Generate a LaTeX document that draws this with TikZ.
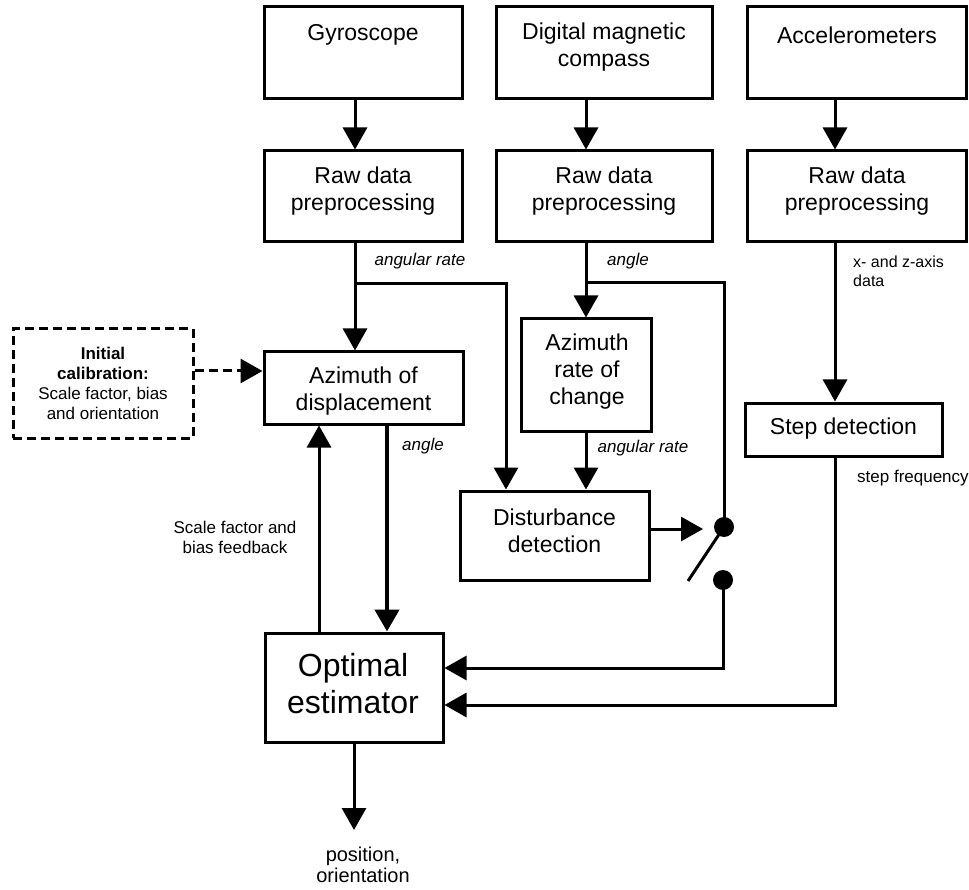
\documentclass[tikz,border=0pt]{standalone}
\usepackage{fontspec}
\setmainfont{Liberation Sans}
\usetikzlibrary{arrows.meta,calc}
\begin{document}
\begin{tikzpicture}[x=1pt,y=-1pt,
  box/.style={draw, line width=3pt, inner sep=0pt},
  dbox/.style={draw, line width=3pt, dash pattern=on 9pt off 5pt, inner sep=0pt},
  bigtxt/.style={font=\fontsize{23}{27}\selectfont, align=center, inner sep=0pt},
  hugetxt/.style={font=\fontsize{32}{37}\selectfont, align=center, inner sep=0pt},
  smalltxt/.style={font=\fontsize{17}{20}\selectfont, align=center, inner sep=0pt},
  conn/.style={line width=3pt},
  arr/.style={line width=3pt, -{Triangle[length=22pt,width=24pt]}},
  arrthick/.style={line width=4.5pt, -{Triangle[length=22pt,width=24pt]}},
  darr/.style={line width=3pt, dash pattern=on 9pt off 5pt, -{Triangle[length=22pt,width=24pt]}}
]
\useasboundingbox (0,0) rectangle (969,890);

% boxes
\node[box, minimum width=198pt, minimum height=92pt] (gyro) at (363,53) {};
\node[box, minimum width=216pt, minimum height=92pt] (compass) at (604,53) {};
\node[box, minimum width=219pt, minimum height=92pt] (accel) at (856.5,53) {};
\node[bigtxt] (gyrotxt) at (363,35) {Gyroscope};
\node[bigtxt] (comptxt) at (604,47) {Digital magnetic\\compass};
\node[bigtxt] (acctxt) at (857,35) {Accelerometers};

\node[box, minimum width=198pt, minimum height=91pt] (graw) at (363,196.5) {};
\node[box, minimum width=216pt, minimum height=91pt] (craw) at (604,196.5) {};
\node[box, minimum width=219pt, minimum height=91pt] (araw) at (856.5,196.5) {};
\node[bigtxt] (grawtxt) at (363,191) {Raw data\\preprocessing};
\node[bigtxt] (crawtxt) at (604,191) {Raw data\\preprocessing};
\node[bigtxt] (arawtxt) at (857,191) {Raw data\\preprocessing};

\node[box, minimum width=199pt, minimum height=72pt] (azd) at (363.5,388) {};
\node[bigtxt] (azdtxt) at (363.5,391) {Azimuth of\\displacement};

\node[dbox, minimum width=180pt, minimum height=109pt] (cal) at (103,383.5) {};
\node[smalltxt] (caltxt) at (103,383) {\textbf{Initial}\\\textbf{calibration:}\\Scale factor, bias\\and orientation};

\node[box, minimum width=130pt, minimum height=112pt] (azr) at (586,375) {};
\node[bigtxt] (azrtxt) at (587,372) {Azimuth\\rate of\\change};

\node[box, minimum width=189pt, minimum height=89pt] (dist) at (554.5,535.5) {};
\node[bigtxt] (disttxt) at (554.5,531) {Disturbance\\detection};

\node[box, minimum width=197pt, minimum height=53pt] (step) at (843.5,429.5) {};
\node[bigtxt] (steptxt) at (843.5,429) {Step detection};

\node[box, minimum width=178pt, minimum height=109pt] (opt) at (354,687.5) {};
\node[hugetxt] (opttxt) at (353,684) {Optimal\\estimator};

% helper coordinates
\coordinate (gx) at (355,0);
\coordinate (cx) at (586,0);
\coordinate (ax) at (835,0);
\coordinate (bx) at (506,0);
\coordinate (fx) at (319,0);
\coordinate (angx) at (387,0);
\coordinate (ox) at (354,0);
\coordinate (gb) at (355,284);
\coordinate (cb) at (586,283);
\coordinate (swtop) at (724,527);
\coordinate (swbot) at (723,580);
\coordinate (blade) at (688,581);
\coordinate (swin) at (703,529);
\coordinate (r1) at (0,668);
\coordinate (r2) at (0,705);
\coordinate (caly) at (0,371);
\coordinate (outc) at (354,830);

% connectors
\draw[arr] (gyro.south -| gx) -- (graw.north -| gx);
\draw[arr] (compass.south -| cx) -- (craw.north -| cx);
\draw[arr] (accel.south -| ax) -- (araw.north -| ax);
\draw[arr] (graw.south -| gx) -- (azd.north -| gx);
\draw[arr] (gb) -| (dist.north -| bx);
\draw[arr] (craw.south -| cx) -- (azr.north -| cx);
\draw[conn] (cb) -| (swtop);
\draw[arr] (araw.south -| ax) -- (step.north -| ax);
\draw[arr] (azr.south) -- (azr.south |- dist.north);
\draw[arr] (dist.east |- swin) -- (swin);
\draw[conn] (swtop) -- (blade);
\fill (swtop) circle (10pt);
\fill (swbot) circle (10pt);
\draw[arr] (swbot) |- (opt.east |- r1);
\draw[arr] (step.south -| ax) |- (opt.east |- r2);
\draw[arrthick] (azd.south -| angx) -- (opt.north -| angx);
\draw[arr] (opt.north -| fx) -- (azd.south -| fx);
\draw[arr] (opt.south -| ox) -- (outc);
\draw[darr] (cal.east |- caly) -- (azd.west |- caly);

% labels
\node[smalltxt] (l1) at (420,261) {\itshape angular rate};
\node[smalltxt] (l2) at (628,261) {\itshape angle};
\node[smalltxt, anchor=west, align=left, font=\fontsize{16}{19}\selectfont] (l3) at (853,271) {x- and z-axis\\data};
\node[smalltxt] (l4) at (643,448) {\itshape angular rate};
\node[smalltxt] (l5) at (423,446) {\itshape angle};
\node[smalltxt, anchor=west] (l6) at (857,478) {step frequency};
\node[smalltxt] (l7) at (235,537) {Scale factor and\\bias feedback};
\node[bigtxt, font=\fontsize{20}{21}\selectfont] (l8) at (363,865) {position,\\orientation};
\end{tikzpicture}
\end{document}
